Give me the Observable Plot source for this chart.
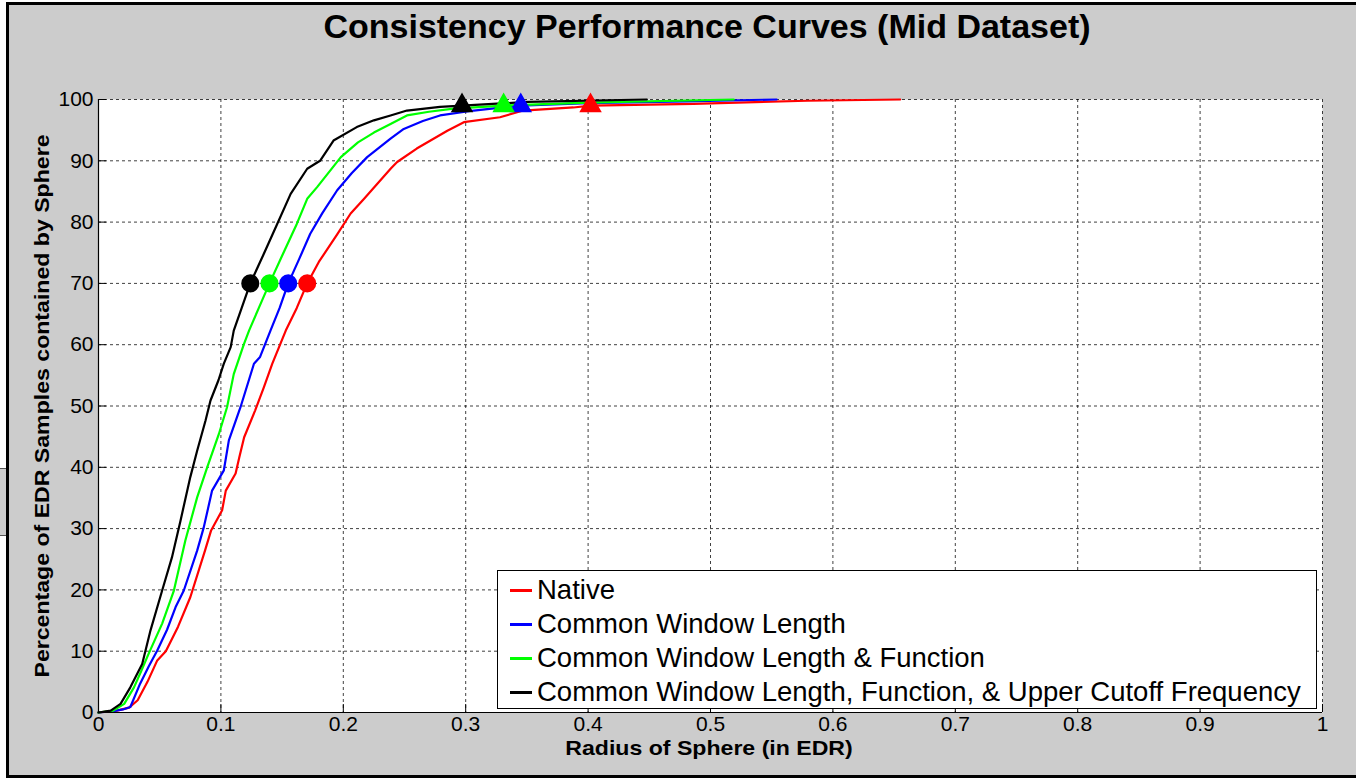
<!DOCTYPE html>
<html>
<head>
<meta charset="utf-8">
<script src="https://cdn.jsdelivr.net/npm/d3@7"></script>
<script src="https://cdn.jsdelivr.net/npm/@observablehq/plot@0.6"></script>
<style>
  html, body { margin: 0; padding: 0; background: #fff; width: 1356px; height: 778px; overflow: hidden; }
  body { position: relative; font-family: "Liberation Sans", Arial, Helvetica, sans-serif; }
  #frame { position: absolute; left: 6px; top: 2px; width: 1400px; height: 770px; background: #cccccc; border: 3px solid #000; }
  #tab { position: absolute; left: 0; top: 468px; width: 6px; height: 66px; background: #cccccc; border-top: 1px solid #555; border-bottom: 1px solid #555; }
  #chart { position: absolute; left: 0; top: 0; }
  #title { position: absolute; left: 707px; top: 7px; transform: translateX(-50%); font-weight: bold; font-size: 34px; white-space: nowrap; }
  #ylabel { position: absolute; left: 42px; top: 406px; transform: translate(-50%, -50%) rotate(-90deg) scaleX(1.1); font-weight: bold; font-size: 21px; white-space: nowrap; }
  #xlabel { position: absolute; left: 709px; top: 736px; transform: translateX(-50%) scaleX(1.1); font-weight: bold; font-size: 21px; white-space: nowrap; }
  #legend { position: absolute; left: 497px; top: 570px; width: 818px; height: 135px; background: #fff; border: 1px solid #000; padding-top: 2px; box-sizing: content-box; }
  .item { height: 34px; line-height: 34px; font-size: 27.5px; white-space: nowrap; display: flex; align-items: center; }
  .swatch { display: inline-block; width: 22px; height: 3px; margin-left: 12px; margin-right: 5px; }
</style>
</head>
<body>
<div id="frame"></div>
<div id="tab"></div>
<div id="chart"></div>
<div id="title"></div>
<div id="ylabel"></div>
<div id="xlabel"></div>
<div id="legend"></div>
<script>
// ---- Data ----
const titleText = "Consistency Performance Curves (Mid Dataset)";
const xLabelText = "Radius of Sphere (in EDR)";
const yLabelText = "Percentage of EDR Samples contained by Sphere";

const seriesNames = [
  "Native",
  "Common Window Length",
  "Common Window Length & Function",
  "Common Window Length, Function, & Upper Cutoff Frequency"
];
const seriesColors = ["#ff0000", "#0000ff", "#00ff00", "#000000"];

const radiusNative = [0, 0.015, 0.025, 0.032, 0.04, 0.048, 0.055, 0.065, 0.075, 0.087, 0.092, 0.101, 0.104, 0.112, 0.115, 0.119, 0.128, 0.135, 0.142, 0.153, 0.162, 0.1705, 0.18, 0.195, 0.206, 0.217, 0.239, 0.244, 0.26, 0.285, 0.2985, 0.328, 0.347, 0.388, 0.402, 0.486, 0.579, 0.655];
const pctNative    = [0, 0.3, 0.8, 2, 5, 8.5, 10, 14, 18.8, 26.4, 29.7, 33, 36.2, 39, 41.6, 44.9, 49.3, 53, 56.9, 62.3, 66, 70, 73.5, 78, 81.4, 83.8, 88.8, 89.8, 92, 94.9, 96.3, 97.1, 98.2, 98.7, 99, 99.3, 99.8, 100];

const radiusCWL = [0, 0.012, 0.02, 0.026, 0.034, 0.041, 0.048, 0.056, 0.063, 0.0697, 0.0806, 0.086, 0.0928, 0.1024, 0.1065, 0.116, 0.127, 0.132, 0.1405, 0.148, 0.155, 0.164, 0.173, 0.183, 0.195, 0.207, 0.2195, 0.2386, 0.2494, 0.265, 0.279, 0.3066, 0.334, 0.345, 0.4, 0.48, 0.554];
const pctCWL    = [0, 0.2, 0.5, 0.9, 4.7, 7.5, 10.1, 13.5, 17.2, 19.9, 26.4, 30.2, 36.2, 39.5, 44.4, 49.8, 56.9, 58, 62.3, 66, 70, 74, 78.1, 81.5, 85.2, 88, 90.6, 93.6, 95.2, 96.5, 97.4, 98.2, 98.8, 99, 99.4, 99.7, 100];

const radiusCWLF = [0, 0.012, 0.021, 0.029, 0.035, 0.041, 0.052, 0.0616, 0.071, 0.0806, 0.0888, 0.0983, 0.105, 0.1105, 0.1188, 0.123, 0.131, 0.1397, 0.15, 0.162, 0.1705, 0.1786, 0.198, 0.212, 0.225, 0.2386, 0.252, 0.27, 0.29, 0.331, 0.4, 0.519];
const pctCWLF    = [0, 0.3, 1.4, 4.1, 6.8, 9.6, 14.5, 19.9, 28.1, 35.1, 40, 45.4, 49.8, 55.2, 60.1, 62.3, 66, 70, 74.5, 79.7, 83.8, 85.7, 90.6, 93, 94.6, 96, 97.4, 98, 98.5, 99, 99.5, 100];

const radiusCWLFU = [0, 0.01, 0.018, 0.026, 0.0357, 0.0425, 0.052, 0.06, 0.067, 0.075, 0.0806, 0.0874, 0.0915, 0.098, 0.1024, 0.108, 0.1105, 0.117, 0.124, 0.135, 0.146, 0.157, 0.1705, 0.181, 0.192, 0.211, 0.225, 0.2386, 0.252, 0.279, 0.297, 0.35, 0.448];
const pctCWLFU    = [0, 0.3, 1.4, 4.1, 7.9, 13.4, 19.9, 25.3, 31.3, 38.4, 42.7, 47.6, 50.9, 54.2, 56.9, 59.6, 62.3, 66, 70, 74.8, 79.7, 84.6, 88.7, 90, 93.3, 95.5, 96.6, 97.4, 98.2, 98.8, 99, 99.6, 100];

// 70% markers (circles) and ~99% markers (triangles)
const circleRadius = [0.1705, 0.155, 0.1397, 0.124];
const circlePct = [70, 70, 70, 70];
const triangleRadius = [0.402, 0.345, 0.331, 0.297];
const trianglePct = [99, 99, 99, 99];

const xTicks = [0, 0.1, 0.2, 0.3, 0.4, 0.5, 0.6, 0.7, 0.8, 0.9, 1];
const xTickLabels = ["0", "0.1", "0.2", "0.3", "0.4", "0.5", "0.6", "0.7", "0.8", "0.9", "1"];
const yTicks = [0, 10, 20, 30, 40, 50, 60, 70, 80, 90, 100];
const yTickLabels = ["0", "10", "20", "30", "40", "50", "60", "70", "80", "90", "100"];

// ---- Build tables ----
const radii = [radiusNative, radiusCWL, radiusCWLF, radiusCWLFU];
const pcts = [pctNative, pctCWL, pctCWLF, pctCWLFU];
const rows = [];
seriesNames.forEach((name, i) => radii[i].forEach((r, j) => rows.push({series: name, r, p: pcts[i][j]})));
const circles = seriesNames.map((name, i) => ({series: name, r: circleRadius[i], p: circlePct[i]}));
const triangles = seriesNames.map((name, i) => ({series: name, r: triangleRadius[i], p: trianglePct[i]}));

const W = 1356, H = 778, mL = 98, mR = 34, mT = 99, mB = 66;
const plotW = W - mL - mR, plotH = H - mT - mB;

const chart = Plot.plot({
  width: W, height: H,
  marginLeft: mL, marginRight: mR, marginTop: mT, marginBottom: mB,
  style: {background: "transparent", fontFamily: "'Liberation Sans', Arial, sans-serif", color: "#000"},
  x: {domain: [0, 1]},
  y: {domain: [0, 100]},
  color: {domain: seriesNames, range: seriesColors},
  marks: [
    Plot.frame({fill: "#ffffff", stroke: "none"}),
    Plot.gridX(xTicks.filter(d => d > 0), {stroke: "#000", strokeOpacity: 0.75, strokeDasharray: "3,3"}),
    Plot.gridY(yTicks.filter(d => d > 0), {stroke: "#000", strokeOpacity: 0.75, strokeDasharray: "3,3"}),
    Plot.line(rows, {x: "r", y: "p", z: "series", stroke: "series", strokeWidth: 2.2}),
    Plot.dot(circles, {x: "r", y: "p", fill: "series", stroke: "series", r: 8.3}),
    Plot.dot(triangles, {x: "r", y: "p", fill: "series", stroke: "series", symbol: "triangle", r: 7.4}),
    Plot.ruleX([0], {stroke: "#000", strokeWidth: 1.2}),
    Plot.ruleY([0], {stroke: "#000", strokeWidth: 1.2}),
    Plot.tickY(yTicks, {y: d => d, stroke: "#000", insetRight: plotW - 8}),
    Plot.tickX(xTicks, {x: d => d, stroke: "#000", insetTop: plotH - 8}),
    Plot.axisX({ticks: xTicks, tickFormat: d => xTickLabels[xTicks.indexOf(d)], tickSize: 0, tickPadding: 4, fontSize: 21, label: null}),
    Plot.axisY({ticks: yTicks, tickFormat: d => yTickLabels[yTicks.indexOf(d)], tickSize: 0, tickPadding: 5, fontSize: 21, label: null})
  ]
});
document.getElementById("chart").appendChild(chart);

document.getElementById("title").textContent = titleText;
document.getElementById("xlabel").textContent = xLabelText;
document.getElementById("ylabel").textContent = yLabelText;

const legend = document.getElementById("legend");
seriesNames.forEach((name, i) => {
  const item = document.createElement("div");
  item.className = "item";
  const sw = document.createElement("span");
  sw.className = "swatch";
  sw.style.background = seriesColors[i];
  const label = document.createElement("span");
  label.textContent = name;
  item.appendChild(sw);
  item.appendChild(label);
  legend.appendChild(item);
});
</script>
</body>
</html>
